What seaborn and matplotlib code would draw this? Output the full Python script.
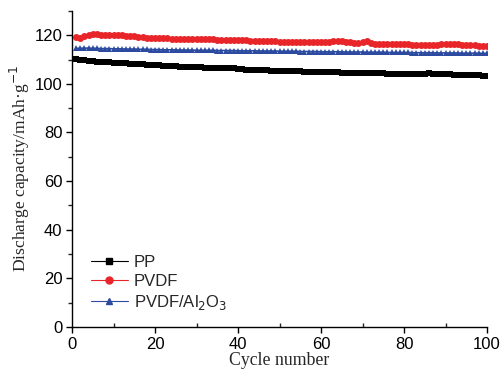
import matplotlib
matplotlib.use("Agg")
import matplotlib.pyplot as plt
import seaborn as sns
import pandas as pd
import numpy as np
from matplotlib.ticker import MultipleLocator
from matplotlib.lines import Line2D

cycles = list(range(1, 101))
pp = [110.3, 110.0, 109.7, 109.5, 109.3, 109.1, 109.0, 108.9, 108.8, 108.7,
      108.6, 108.5, 108.4, 108.3, 108.2, 108.1, 108.0, 107.9, 107.8, 107.7,
      107.6, 107.5, 107.4, 107.3, 107.2, 107.1, 107.0, 106.9, 106.9, 106.8,
      106.8, 106.7, 106.7, 106.7, 106.6, 106.6, 106.6, 106.5, 106.4, 106.3,
      106.0, 105.8, 105.7, 105.6, 105.6, 105.5, 105.5, 105.4, 105.4, 105.3,
      105.3, 105.2, 105.2, 105.1, 105.1, 105.0, 105.0, 104.9, 104.9, 104.8,
      104.8, 104.7, 104.7, 104.7, 104.6, 104.6, 104.6, 104.5, 104.5, 104.5,
      104.4, 104.4, 104.3, 104.3, 104.3, 104.2, 104.2, 104.2, 104.1, 104.1,
      104.1, 104.0, 104.0, 104.0, 104.1, 104.3, 104.2, 104.0, 104.1, 104.2,
      104.0, 103.8, 103.7, 103.7, 103.6, 103.6, 103.5, 103.5, 103.4, 103.4]
pvdf = [119.2, 118.7, 119.8, 120.3, 120.4, 120.4, 120.3, 120.3, 120.2, 120.1,
        120.2, 120.0, 119.8, 119.7, 119.6, 119.4, 119.2, 119.0, 118.9, 118.8,
        118.8, 118.7, 118.7, 118.6, 118.6, 118.6, 118.5, 118.5, 118.4, 118.4,
        118.4, 118.3, 118.3, 118.3, 118.2, 118.2, 118.1, 118.1, 118.0, 118.0,
        117.9, 117.9, 117.8, 117.8, 117.7, 117.7, 117.6, 117.5, 117.5, 117.4,
        117.4, 117.3, 117.3, 117.3, 117.2, 117.2, 117.2, 117.1, 117.1, 117.1,
        117.1, 117.3, 117.6, 117.8, 117.6, 117.3, 117.1, 117.0, 117.0, 117.3,
        117.8, 116.9, 116.5, 116.4, 116.4, 116.3, 116.3, 116.3, 116.2, 116.2,
        116.2, 116.1, 116.1, 116.1, 116.0, 116.0, 116.0, 116.1, 116.4, 116.5,
        116.3, 116.3, 116.2, 116.1, 116.0, 115.9, 115.8, 115.7, 115.6, 115.5]
pvdf_al2o3 = [114.6, 114.6, 114.7, 114.7, 114.6, 114.6, 114.5, 114.5, 114.5, 114.4,
              114.4, 114.4, 114.3, 114.3, 114.3, 114.2, 114.2, 114.2, 114.1, 114.1,
              114.1, 114.0, 114.0, 114.0, 114.0, 113.9, 113.9, 113.9, 113.9, 113.8,
              113.8, 113.8, 113.8, 113.8, 113.7, 113.7, 113.7, 113.7, 113.7, 113.6,
              113.6, 113.6, 113.6, 113.6, 113.5, 113.5, 113.5, 113.5, 113.5, 113.4,
              113.4, 113.4, 113.4, 113.4, 113.3, 113.3, 113.3, 113.3, 113.3, 113.2,
              113.2, 113.2, 113.2, 113.2, 113.2, 113.1, 113.1, 113.1, 113.1, 113.1,
              113.0, 113.0, 113.0, 113.0, 113.0, 112.9, 112.9, 112.9, 112.9, 112.9,
              112.9, 112.8, 112.8, 112.8, 112.8, 112.8, 112.8, 112.7, 112.7, 112.7,
              112.7, 112.7, 112.7, 112.6, 112.6, 112.6, 112.6, 112.6, 112.5, 112.5]

labels = ["PP", "PVDF", "PVDF/Al$_2$O$_3$"]
colors = ["#000000", "#e8262a", "#2b4aa0"]
markers = ["s", "o", "^"]

sns.set_style("ticks")
plt.rcParams['font.family'] = ['Liberation Sans', 'DejaVu Sans']

fig = plt.figure(figsize=(5.0, 3.77), dpi=100)
ax = fig.add_axes([0.144, 0.133, 0.830, 0.838])

series = [pp, pvdf, pvdf_al2o3]
for vals, lab, c, m in zip(series, labels, colors, markers):
    df = pd.DataFrame({"cycle": cycles, "cap": vals})
    sns.lineplot(data=df, x="cycle", y="cap", ax=ax, color=c, marker=m,
                 markersize=5.0, markeredgewidth=0, linewidth=1.2, label=lab,
                 legend=False)

ax.set_xlim(0, 100)
ax.set_ylim(0, 130)
ax.xaxis.set_major_locator(MultipleLocator(20))
ax.xaxis.set_minor_locator(MultipleLocator(10))
ax.yaxis.set_major_locator(MultipleLocator(20))
ax.yaxis.set_minor_locator(MultipleLocator(10))
ax.tick_params(axis='both', which='major', direction='out', length=4, width=1,
               labelsize=12, colors='black', pad=3)
ax.tick_params(axis='x', which='minor', direction='in', length=3, width=1)
ax.tick_params(axis='y', which='minor', direction='out', length=3, width=1)
for s in ['top', 'right']:
    ax.spines[s].set_visible(False)
for s in ['left', 'bottom']:
    ax.spines[s].set_linewidth(1.0)
    ax.spines[s].set_color('black')

ax.set_xlabel("Cycle number", family=['Liberation Serif'], fontsize=12.8, labelpad=0)
ax.set_ylabel("Discharge capacity/mAh·g$^{-1}$", family=['Liberation Serif'],
              fontsize=12.6, labelpad=2)

handles = [Line2D([0], [0], color=c, marker=m, markersize=5, lw=0.8)
           for c, m in zip(colors, markers)]
leg = ax.legend(handles, labels, loc='lower left', bbox_to_anchor=(0.01, 0.0),
                frameon=False, fontsize=12, handlelength=2.2, handletextpad=0.35,
                labelspacing=0.25)

fig.savefig("out.png", dpi=100)
